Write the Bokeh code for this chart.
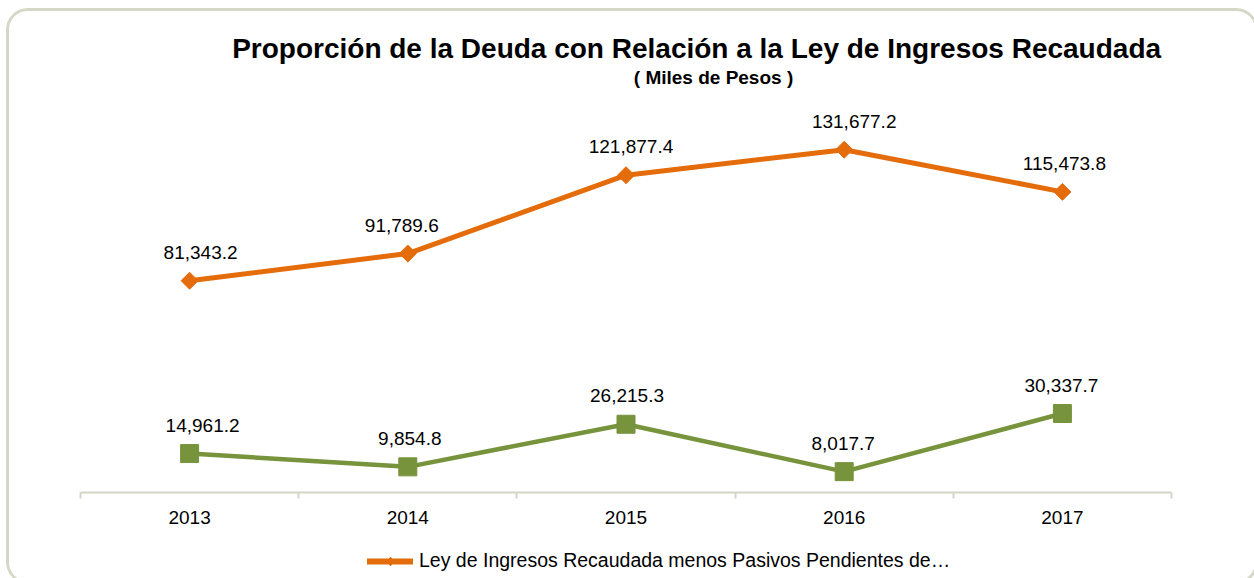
import math
from bokeh.plotting import figure
from bokeh.layouts import column
from bokeh.models import (Range1d, LinearAxis, FixedTicker,
                          ColumnDataSource, LabelSet, Label, Legend, LegendItem)
from bokeh.core.properties import value
from bokeh.embed import file_html
from bokeh.resources import INLINE

# ---- data ----
years = ["2013", "2014", "2015", "2016", "2017"]
ley_ingresos = [81343.2, 91789.6, 121877.4, 131677.2, 115473.8]
deuda = [14961.2, 9854.8, 26215.3, 8017.7, 30337.7]
ley_labels = ["81,343.2", "91,789.6", "121,877.4", "131,677.2", "115,473.8"]
deuda_labels = ["14,961.2", "9,854.8", "26,215.3", "8,017.7", "30,337.7"]
legend_label = "Ley de Ingresos Recaudada menos Pasivos Pendientes de\u2026"
title_text = "Proporci\u00f3n de la Deuda con Relaci\u00f3n a la Ley de  Ingresos Recaudada"
subtitle_text = "( Miles de Pesos )"

# label nudges (px), style only
ley_dx = [11, -6, 5, 10, 2]
deuda_dx = [13, 2, 1, -1, -1]

ORANGE = "#E46C0A"
GREEN = "#77933C"
AXIS = "#D3D5C5"
FONT = "Liberation Sans"


def bare(fig):
    fig.xgrid.visible = False
    fig.ygrid.visible = False
    fig.outline_line_color = None
    fig.background_fill_color = "white"
    fig.border_fill_color = "white"


# category slots: centre of slot i is i + 0.5
xc = [i + 0.5 for i in range(len(years))]
bounds = list(range(len(years) + 1))

# ---- title strip (its frame is aligned with the chart frame by the column) ----
t = figure(width=1246, height=78, x_range=Range1d(0, 1), y_range=Range1d(0, 1),
           x_axis_location=None, y_axis_location=None, output_backend="svg",
           toolbar_location=None, min_border_left=0, min_border_right=0,
           min_border_top=0, min_border_bottom=0)
bare(t)
t.add_layout(Label(x=620, y=41, x_units="screen", y_units="screen", text=title_text,
                   text_align="center", text_baseline="middle", text_font=FONT,
                   text_font_size="28px", text_font_style="bold", text_color="#000000"))
t.add_layout(Label(x=633, y=12, x_units="screen", y_units="screen", text=subtitle_text,
                   text_align="center", text_baseline="middle", text_font=FONT,
                   text_font_size="19px", text_font_style="bold", text_color="#000000"))

# ---- main chart ----
p = figure(width=1246, height=452, x_range=Range1d(0, len(years)), y_range=Range1d(0, 154800),
           x_axis_location=None, y_axis_location=None, output_backend="svg",
           toolbar_location=None, min_border_left=71, min_border_right=84,
           min_border_top=0, min_border_bottom=49)
bare(p)

# axes: tick marks between categories + category labels
tick_axis = LinearAxis(ticker=FixedTicker(ticks=bounds), major_label_overrides={b: "" for b in bounds},
                       major_label_text_font_size="1px", major_label_standoff=0,
                       major_tick_in=0, major_tick_out=6, minor_tick_in=0, minor_tick_out=0,
                       axis_line_color=AXIS, axis_line_width=2,
                       major_tick_line_color=AXIS, major_tick_line_width=2)
label_axis = LinearAxis(ticker=FixedTicker(ticks=xc), major_label_overrides=dict(zip(xc, years)),
                        axis_line_color=None, major_tick_line_color=None,
                        minor_tick_line_color=None, major_label_standoff=6,
                        major_label_text_font=FONT, major_label_text_font_size="19px",
                        major_label_text_color="#000000")
p.add_layout(tick_axis, "below")
p.add_layout(label_axis, "below")

src1 = ColumnDataSource(dict(x=xc, y=ley_ingresos, t=ley_labels, dx=ley_dx))
src2 = ColumnDataSource(dict(x=xc, y=deuda, t=deuda_labels, dx=deuda_dx))

l1 = p.line("x", "y", source=src1, line_color=ORANGE, line_width=5)
m1 = p.scatter("x", "y", source=src1, marker="square", angle=math.pi / 4, size=12,
               fill_color=ORANGE, line_color=ORANGE)
l2 = p.line("x", "y", source=src2, line_color=GREEN, line_width=4.5)
m2 = p.scatter("x", "y", source=src2, marker="square", size=18,
               fill_color=GREEN, line_color=GREEN)

for src in (src1, src2):
    p.add_layout(LabelSet(x="x", y="y", text="t", source=src, y_offset=22, x_offset="dx",
                          text_align="center", text_baseline="alphabetic",
                          text_font=value(FONT), text_font_size=value("19px"),
                          text_color="#000000"))

# ---- legend strip (series 1 drawn again out of view, only to feed the legend swatch) ----
q = figure(width=1246, height=40, x_range=Range1d(0, len(years)), y_range=Range1d(-2, -1),
           x_axis_location=None, y_axis_location=None, output_backend="svg",
           toolbar_location=None, min_border_left=0, min_border_right=0,
           min_border_top=0, min_border_bottom=0)
bare(q)
lg_line = q.line("x", "y", source=src1, line_color=ORANGE, line_width=6, line_cap="round")
lg_mark = q.scatter("x", "y", source=src1, marker="diamond", size=14,
                    fill_color=ORANGE, line_color=ORANGE)
legend = Legend(items=[LegendItem(label=legend_label, renderers=[lg_line, lg_mark])],
                location=(287, 9), orientation="horizontal", padding=0, margin=0,
                border_line_color=None, background_fill_alpha=0,
                glyph_width=46, glyph_height=22, label_standoff=6,
                label_text_font=FONT, label_text_font_size="19.5px", label_text_color="#000000")
q.add_layout(legend, "center")

layout = column(t, p, q, spacing=0)
layout.styles = {"border": "3px solid #D5D8C6", "border-radius": "22px", "overflow": "hidden",
                 "margin": "8px 0px 0px 6px"}

open("out.html", "w").write(file_html(layout, INLINE))
